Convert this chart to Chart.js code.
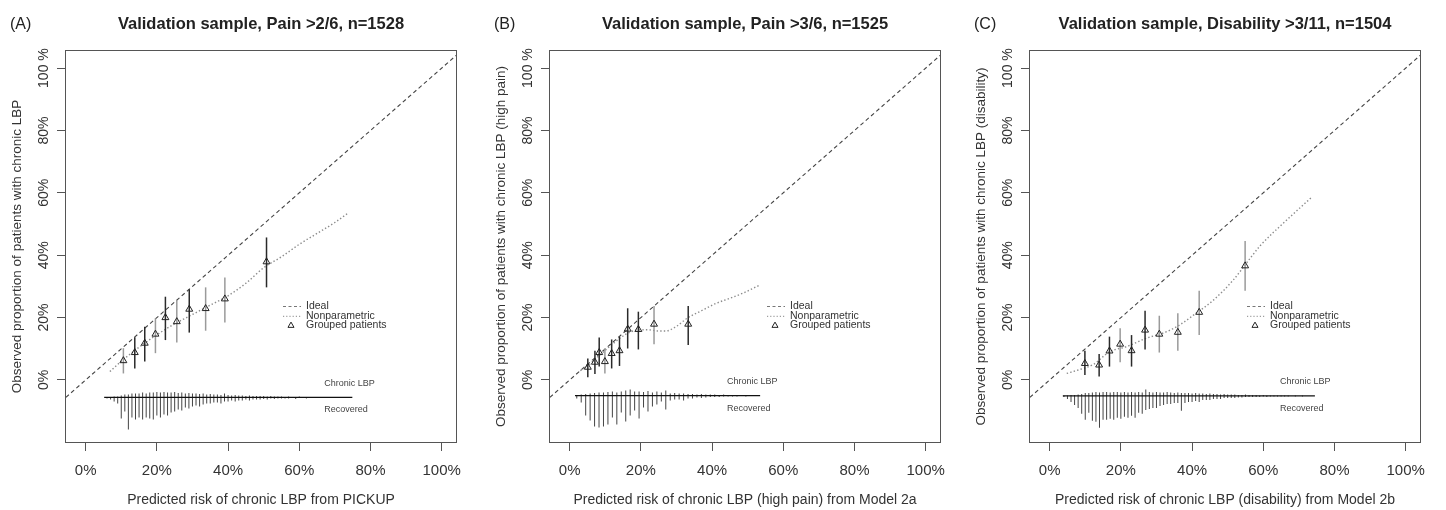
<!DOCTYPE html>
<html><head><meta charset="utf-8">
<script src="https://cdn.jsdelivr.net/npm/chart.js@4.4.1/dist/chart.umd.min.js"></script>
<style>
html,body{margin:0;padding:0;background:#fff;}
#wrap{position:relative;width:1446px;height:510px;overflow:hidden;background:#fff;}
canvas{position:absolute;top:0;}
</style></head><body>
<div id="wrap">
<canvas id="cA" width="482" height="510" style="left:0px"></canvas>
<canvas id="cB" width="482" height="510" style="left:484px"></canvas>
<canvas id="cC" width="482" height="510" style="left:964px"></canvas>
</div>
<script>
// ---------- shared labels ----------
const xTickValues = [0, 0.2, 0.4, 0.6, 0.8, 1.0];
const xTickLabels = ["0%", "20%", "40%", "60%", "80%", "100%"];
const yTickValues = [0, 0.2, 0.4, 0.6, 0.8, 1.0];
const yTickLabels = ["0%", "20%", "40%", "60%", "80%", "100 %"];
const idealX = [-0.1, 1.1];
const legendLabels = ["Ideal", "Nonparametric", "Grouped patients"];
const histLabels = ["Chronic LBP", "Recovered"];
const panelLetters = ["(A)", "(B)", "(C)"];
const panelTitles = ["Validation sample, Pain >2/6, n=1528", "Validation sample, Pain >3/6, n=1525", "Validation sample, Disability >3/11, n=1504"];
const xTitles = ["Predicted risk of chronic LBP from PICKUP", "Predicted risk of chronic LBP (high pain) from Model 2a", "Predicted risk of chronic LBP (disability) from Model 2b"];
const yTitles = ["Observed proportion of patients with chronic LBP", "Observed proportion of patients with chronic LBP (high pain)", "Observed proportion of patients with chronic LBP (disability)"];

// ---------- Panel A ----------
const groupX_A = [0.106, 0.138, 0.166, 0.196, 0.224, 0.256, 0.291, 0.337, 0.391, 0.508];
const groupY_A = [0.062, 0.088, 0.118, 0.147, 0.200, 0.187, 0.227, 0.229, 0.260, 0.379];
const ciLo_A = [0.021, 0.037, 0.059, 0.086, 0.128, 0.120, 0.152, 0.158, 0.184, 0.297];
const ciHi_A = [0.102, 0.137, 0.171, 0.198, 0.267, 0.256, 0.291, 0.297, 0.329, 0.457];
const ciDark_A = [0, 1, 1, 0, 1, 0, 1, 0, 0, 1];
const npX_A = [0.068, 0.10, 0.15, 0.20, 0.25, 0.30, 0.35, 0.40, 0.45, 0.50, 0.55, 0.60, 0.65, 0.70, 0.738];
const npY_A = [0.027, 0.06, 0.105, 0.145, 0.18, 0.21, 0.24, 0.27, 0.31, 0.36, 0.395, 0.435, 0.47, 0.505, 0.536];
const histX_A = [0.06,0.07,0.08,0.09,0.10,0.11,0.12,0.13,0.14,0.15,0.16,0.17,0.18,0.19,0.20,0.21,0.22,0.23,0.24,0.25,0.26,0.27,0.28,0.29,0.30,0.31,0.32,0.33,0.34,0.35,0.36,0.37,0.38,0.39,0.40,0.41,0.42,0.43,0.44,0.45,0.46,0.47,0.48,0.49,0.50,0.51,0.52,0.53,0.54,0.55,0.56,0.57,0.58,0.59,0.60,0.61,0.62,0.63,0.64,0.65,0.66,0.67,0.68,0.69,0.70,0.71,0.72,0.73,0.74];
const histUp_A = [1,1,2,2,4,6,6,8,8,8,10,8,10,10,11,10,11,10,10,11,9,10,8,9,8,8,7,8,6,7,6,6,5,8,5,4,5,4,4,3,4,3,3,3,3,2,3,2,2,2,1,2,1,1,2,1,1,1,0,1,1,0,1,0,1,0,1,0,0];
const histDown_A = [2,4,8,12,42,28,64,40,44,40,44,40,42,44,36,40,34,36,30,28,24,26,20,22,18,16,18,14,12,12,10,10,12,8,8,6,8,6,6,4,6,4,4,4,3,4,2,3,2,2,2,2,1,3,1,1,2,1,1,0,1,1,0,1,0,1,0,1,0];
const histRange_A = [0.052, 0.749];
const histBase_A = -0.056;
const histLabelX_A = 0.67;

// ---------- Panel B ----------
const groupX_B = [0.051, 0.071, 0.083, 0.099, 0.118, 0.140, 0.163, 0.193, 0.237, 0.333];
const groupY_B = [0.041, 0.057, 0.088, 0.059, 0.085, 0.094, 0.163, 0.162, 0.179, 0.179];
const ciLo_B = [0.009, 0.019, 0.043, 0.021, 0.037, 0.045, 0.101, 0.098, 0.115, 0.112];
const ciHi_B = [0.069, 0.094, 0.136, 0.101, 0.130, 0.139, 0.230, 0.219, 0.237, 0.237];
const ciDark_B = [1, 1, 1, 0, 1, 1, 1, 1, 0, 1];
const npX_B = [0.03, 0.05, 0.08, 0.11, 0.14, 0.16, 0.19, 0.22, 0.25, 0.27, 0.30, 0.33, 0.37, 0.41, 0.45, 0.49, 0.535];
const npY_B = [0.03, 0.045, 0.075, 0.105, 0.133, 0.148, 0.16, 0.161, 0.157, 0.157, 0.172, 0.198, 0.222, 0.245, 0.262, 0.28, 0.305];
const histX_B = [0.020,0.0325,0.045,0.0575,0.070,0.0825,0.095,0.1075,0.120,0.1325,0.145,0.1575,0.170,0.1825,0.195,0.2075,0.220,0.2325,0.245,0.2575,0.270,0.2825,0.295,0.3075,0.320,0.3325,0.345,0.3575,0.370,0.3825,0.395,0.4075,0.420,0.4325,0.445,0.4575,0.470,0.4825,0.495,0.5075,0.520,0.5325];
const histUp_B = [1,2,3,4,5,6,6,7,8,6,8,10,12,8,8,7,9,6,8,6,10,4,5,4,4,3,3,2,3,2,2,2,1,2,1,1,1,1,1,1,1,0];
const histDown_B = [6,14,40,50,62,64,62,58,44,58,34,52,40,30,46,24,32,22,18,12,28,10,8,8,10,6,6,4,5,4,3,3,3,2,2,2,2,1,2,1,1,1];
const histRange_B = [0.015, 0.535];
const histBase_B = -0.050;
const histLabelX_B = 0.442;

// ---------- Panel C ----------
const groupX_C = [0.099, 0.139, 0.168, 0.198, 0.230, 0.268, 0.308, 0.360, 0.420, 0.549];
const groupY_C = [0.053, 0.048, 0.093, 0.115, 0.094, 0.160, 0.147, 0.153, 0.217, 0.366];
const ciLo_C = [0.016, 0.011, 0.043, 0.057, 0.043, 0.098, 0.088, 0.094, 0.144, 0.286];
const ciHi_C = [0.094, 0.083, 0.139, 0.166, 0.144, 0.222, 0.206, 0.214, 0.286, 0.446];
const ciDark_C = [1, 1, 1, 0, 1, 1, 0, 0, 0, 0];
const npX_C = [0.048, 0.08, 0.123, 0.169, 0.216, 0.272, 0.329, 0.37, 0.404, 0.46, 0.516, 0.563, 0.591, 0.666, 0.735];
const npY_C = [0.021, 0.032, 0.05, 0.091, 0.107, 0.134, 0.155, 0.18, 0.208, 0.256, 0.321, 0.39, 0.43, 0.513, 0.585];
const histX_C = [0.04,0.05,0.06,0.07,0.08,0.09,0.10,0.11,0.12,0.13,0.14,0.15,0.16,0.17,0.18,0.19,0.20,0.21,0.22,0.23,0.24,0.25,0.26,0.27,0.28,0.29,0.30,0.31,0.32,0.33,0.34,0.35,0.36,0.37,0.38,0.39,0.40,0.41,0.42,0.43,0.44,0.45,0.46,0.47,0.48,0.49,0.50,0.51,0.52,0.53,0.54,0.55,0.56,0.57,0.58,0.59,0.60,0.61,0.62,0.63,0.64,0.65,0.66,0.67,0.68,0.69,0.70,0.71,0.72,0.73,0.74];
const histUp_C = [1,1,2,2,3,4,6,6,7,8,7,8,8,7,8,8,7,8,7,8,7,8,7,13,8,7,8,7,7,8,7,6,7,6,6,6,5,6,5,5,4,5,4,4,3,4,3,3,3,2,2,3,2,2,2,1,2,1,1,1,1,1,1,1,0,1,0,1,0,0,0];
const histDown_C = [2,6,12,18,24,36,48,34,50,52,64,48,48,46,48,44,46,42,44,40,44,34,36,28,26,24,24,20,18,16,16,14,14,30,14,12,12,10,12,8,8,8,6,6,6,4,4,4,4,3,3,2,2,2,2,2,1,2,1,1,1,1,1,1,0,1,0,1,0,0,0];
const histRange_C = [0.037, 0.745];
const histBase_C = -0.051;
const histLabelX_C = 0.647;

// ---------- styling constants ----------
const FONT = '"Liberation Sans", Arial, Helvetica, sans-serif';
const SPIKE_PER_COUNT = 0.0016;   // y-units per patient count
const X_MIN = -0.058, X_MAX = 1.043, Y_MIN = -0.202, Y_MAX = 1.058;

const panels = [
  {id:'cA', gx:groupX_A, gy:groupY_A, lo:ciLo_A, hi:ciHi_A, dark:ciDark_A, npx:npX_A, npy:npY_A,
   hx:histX_A, hu:histUp_A, hd:histDown_A, hr:histRange_A, hb:histBase_A, hl:histLabelX_A},
  {id:'cB', gx:groupX_B, gy:groupY_B, lo:ciLo_B, hi:ciHi_B, dark:ciDark_B, npx:npX_B, npy:npY_B,
   hx:histX_B, hu:histUp_B, hd:histDown_B, hr:histRange_B, hb:histBase_B, hl:histLabelX_B},
  {id:'cC', gx:groupX_C, gy:groupY_C, lo:ciLo_C, hi:ciHi_C, dark:ciDark_C, npx:npX_C, npy:npY_C,
   hx:histX_C, hu:histUp_C, hd:histDown_C, hr:histRange_C, hb:histBase_C, hl:histLabelX_C}
];

function lookup(vals, labels, v) {
  const i = vals.findIndex(t => Math.abs(t - v) < 1e-9);
  return i >= 0 ? labels[i] : '';
}

const decor = {
  id: 'decor',
  afterDraw(chart, args, o) {
    const {ctx, chartArea: a, scales: {x, y}} = chart;
    ctx.save();
    // box
    ctx.strokeStyle = '#555'; ctx.lineWidth = 1; ctx.setLineDash([]);
    ctx.strokeRect(a.left + 0.5, a.top + 0.5, a.right - a.left - 1, a.bottom - a.top - 1);
    // panel letter + title
    ctx.fillStyle = '#222';
    ctx.textBaseline = 'alphabetic';
    ctx.font = '16px ' + FONT; ctx.textAlign = 'left';
    ctx.fillText(o.letter, 10, 29);
    ctx.font = 'bold 16.5px ' + FONT; ctx.textAlign = 'center';
    ctx.fillText(o.title, (a.left + a.right) / 2, 29);
    // legend
    const lx = a.left + 241, ly = a.top + 256, step = 9.8;
    ctx.font = '10.5px ' + FONT; ctx.textAlign = 'left'; ctx.textBaseline = 'middle'; ctx.fillStyle = '#333';
    legendLabels.forEach((t, i) => ctx.fillText(t, lx, ly + i * step));
    ctx.lineWidth = 1;
    ctx.strokeStyle = '#777'; ctx.setLineDash([3, 2.5]);
    ctx.beginPath(); ctx.moveTo(lx - 23, ly + 0.5); ctx.lineTo(lx - 5, ly + 0.5); ctx.stroke();
    ctx.strokeStyle = '#888'; ctx.setLineDash([1.2, 2]);
    ctx.beginPath(); ctx.moveTo(lx - 23, ly + step + 0.5); ctx.lineTo(lx - 5, ly + step + 0.5); ctx.stroke();
    ctx.setLineDash([]); ctx.strokeStyle = '#222';
    const tx = lx - 15, ty = ly + 2 * step, r = 3.5;
    ctx.beginPath(); ctx.moveTo(tx, ty - r); ctx.lineTo(tx + r * 0.866, ty + r * 0.5); ctx.lineTo(tx - r * 0.866, ty + r * 0.5); ctx.closePath(); ctx.stroke();
    // histogram labels
    ctx.font = '9px ' + FONT; ctx.fillStyle = '#444';
    const hx = x.getPixelForValue(o.histLabelX), hy = y.getPixelForValue(o.histBase);
    ctx.fillText(histLabels[0], hx, hy - 14);
    ctx.fillText(histLabels[1], hx, hy + 12.5);
    ctx.restore();
  }
};

function makeChart(p, k) {
  const pts = (xs, ys) => xs.map((v, i) => ({x: v, y: ys[i]}));
  const datasets = [
    {type: 'scatter', label: legendLabels[2], data: pts(p.gx, p.gy), pointStyle: 'triangle', pointRadius: 4,
     borderColor: '#222', borderWidth: 1, backgroundColor: 'rgba(0,0,0,0)', order: 1},
    {type: 'bar', label: 'CI', data: p.gx.map((v, i) => ({x: v, y: [p.lo[i], p.hi[i]]})),
     backgroundColor: p.dark.map(d => d ? '#2a2a2a' : '#9a9a9a'), barThickness: 1.5, inflateAmount: 0,
     grouped: false, borderWidth: 0, order: 2},
    {type: 'line', label: legendLabels[0], data: idealX.map(v => ({x: v, y: v})), borderColor: '#444', borderWidth: 1.1,
     borderDash: [4, 3], pointRadius: 0, order: 4},
    {type: 'line', label: legendLabels[1], data: pts(p.npx, p.npy), borderColor: '#8c8c8c', borderWidth: 1.4,
     borderDash: [1.4, 2.2], pointRadius: 0, cubicInterpolationMode: 'monotone', order: 3},
    {type: 'line', label: 'base', data: p.hr.map(v => ({x: v, y: p.hb})), borderColor: '#111', borderWidth: 1.2, pointRadius: 0, order: 5},
    {type: 'bar', label: histLabels[0], data: p.hx.map((v, i) => ({x: v, y: [p.hb, p.hb + p.hu[i] * SPIKE_PER_COUNT]})),
     backgroundColor: '#444', barThickness: 1, inflateAmount: 0, grouped: false, borderWidth: 0, order: 6},
    {type: 'bar', label: histLabels[1], data: p.hx.map((v, i) => ({x: v, y: [p.hb - p.hd[i] * SPIKE_PER_COUNT, p.hb]})),
     backgroundColor: '#444', barThickness: 1, inflateAmount: 0, grouped: false, borderWidth: 0, order: 6}
  ];
  return new Chart(document.getElementById(p.id), {
    type: 'scatter',
    data: {datasets},
    options: {
      responsive: false, animation: false, devicePixelRatio: 1,
      layout: {padding: {left: 0, top: 50, right: 25, bottom: 0}},
      plugins: {legend: {display: false}, tooltip: {enabled: false}, title: {display: false},
        decor: {letter: panelLetters[k], title: panelTitles[k], histLabelX: p.hl, histBase: p.hb}},
      scales: {
        x: {type: 'linear', min: X_MIN, max: X_MAX, offset: false,
          afterBuildTicks: s => { s.ticks = xTickValues.map(v => ({value: v})); },
          afterFit: s => { s.height = 67; },
          ticks: {callback: v => lookup(xTickValues, xTickLabels, v), font: {size: 15, family: FONT}, color: '#333',
            padding: 11, maxRotation: 0, minRotation: 0, autoSkip: false},
          grid: {drawOnChartArea: false, drawTicks: true, tickLength: 8, color: '#555', offset: false},
          border: {display: false},
          title: {display: true, text: xTitles[k], font: {size: 14, family: FONT}, color: '#333', padding: {top: 0, bottom: 1}}
        },
        y: {type: 'linear', min: Y_MIN, max: Y_MAX, beginAtZero: false,
          afterBuildTicks: s => { s.ticks = yTickValues.map(v => ({value: v})); },
          afterFit: s => { s.width = 65; },
          ticks: {callback: v => lookup(yTickValues, yTickLabels, v), font: {size: 14, family: FONT}, color: '#333',
            minRotation: 90, maxRotation: 90, crossAlign: 'center', padding: -7, autoSkip: false},
          grid: {drawOnChartArea: false, drawTicks: true, tickLength: 8, color: '#555'},
          border: {display: false},
          title: {display: true, text: yTitles[k], font: {size: 13.5, family: FONT}, color: '#333', padding: {top: 9, bottom: 0}}
        }
      }
    },
    plugins: [decor]
  });
}
panels.forEach((p, k) => makeChart(p, k));
</script>
</body></html>
